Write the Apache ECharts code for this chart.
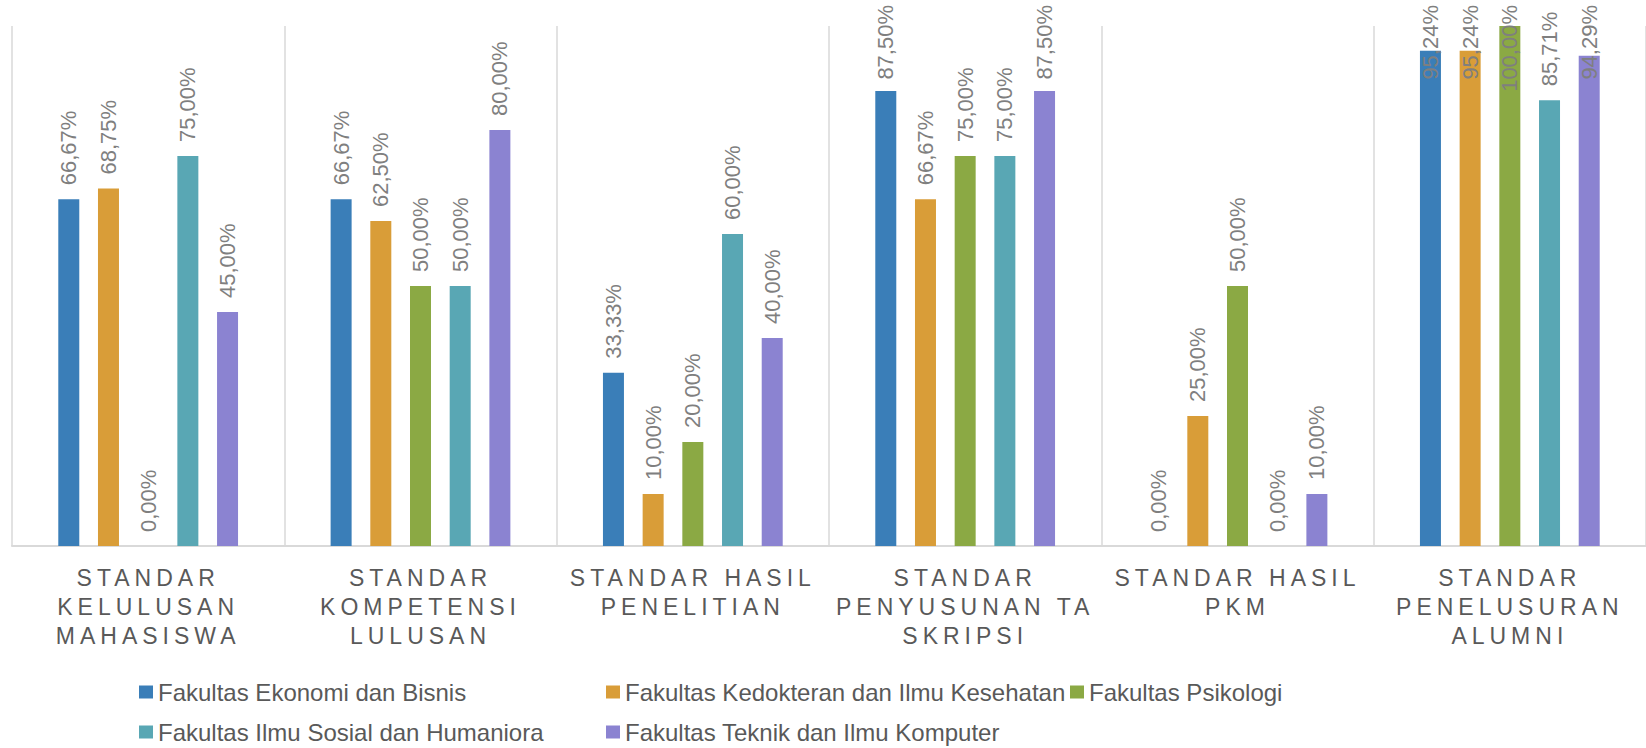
<!DOCTYPE html>
<html>
<head>
<meta charset="utf-8">
<script src="https://cdn.jsdelivr.net/npm/echarts@6/dist/echarts.min.js"></script>
<style>
  html, body { margin: 0; padding: 0; background: #fff; }
  #main { width: 1646px; height: 748px; }
  /* category labels are letter-spaced like the original */
  #main text[style*="23px"] { letter-spacing: 5px; }
</style>
</head>
<body>
<div id="main"></div>
<script>
var categories = [
    'STANDAR\nKELULUSAN\nMAHASISWA',
    'STANDAR\nKOMPETENSI\nLULUSAN',
    'STANDAR HASIL\nPENELITIAN',
    'STANDAR\nPENYUSUNAN TA\nSKRIPSI',
    'STANDAR HASIL\nPKM',
    'STANDAR\nPENELUSURAN\nALUMNI'
];
var names = [
    'Fakultas Ekonomi dan Bisnis',
    'Fakultas Kedokteran dan Ilmu Kesehatan',
    'Fakultas Psikologi',
    'Fakultas Ilmu Sosial dan Humaniora',
    'Fakultas Teknik dan Ilmu Komputer'
];
var feb = [66.67, 66.67, 33.33, 87.50, 0, 95.24];
var fkik = [68.75, 62.50, 10.00, 66.67, 25.00, 95.24];
var psi = [0, 50.00, 20.00, 75.00, 50.00, 100.00];
var fish = [75.00, 50.00, 60.00, 75.00, 0, 85.71];
var ftik = [45.00, 80.00, 40.00, 87.50, 10.00, 94.29];
var colors = ['#3a7eb8', '#d99d38', '#8ba944', '#59a7b4', '#8b83d1'];

var font = '"Liberation Sans", Arial, sans-serif';

function pct(p) {
    return p.value.toFixed(2).replace('.', ',') + '%';
}

function makeSeries(i, data) {
    return {
        name: names[i],
        type: 'bar',
        data: data,
        barWidth: 21,
        barGap: '89%',
        itemStyle: { color: colors[i] },
        label: {
            show: true,
            position: 'top',
            rotate: 90,
            align: 'left',
            verticalAlign: 'middle',
            distance: 14,
            fontSize: 22,
            fontFamily: font,
            color: '#7f7f7f',
            formatter: pct
        },
        // labels that would run off the top are pushed back inside, as Excel does
        // (offset is in the rotated frame, so -dx moves the text down)
        labelLayout: function (p) {
            var over = 5 - p.labelRect.y;
            return over > 0 ? { dx: -over } : {};
        }
    };
}

var legendText = { fontSize: 24, color: '#595959', fontFamily: font };

var myChart = echarts.init(document.getElementById('main'), null, { renderer: 'svg' });
var option = {
    animation: false,
    textStyle: { fontFamily: font },
    grid: { left: 12, right: 0, top: 26, bottom: 202 },
    legend: [
        { data: [names[0], names[3]], orient: 'vertical', left: 139, top: 680, padding: 0,
          icon: 'rect', itemWidth: 14, itemHeight: 13, itemGap: 16, selectedMode: false, textStyle: legendText },
        { data: [names[1], names[4]], orient: 'vertical', left: 606, top: 680, padding: 0,
          icon: 'rect', itemWidth: 14, itemHeight: 13, itemGap: 16, selectedMode: false, textStyle: legendText },
        { data: [names[2]], orient: 'vertical', left: 1070, top: 680, padding: 0,
          icon: 'rect', itemWidth: 14, itemHeight: 13, itemGap: 16, selectedMode: false, textStyle: legendText }
    ],
    xAxis: {
        type: 'category',
        data: categories,
        axisTick: { show: false },
        axisLine: { lineStyle: { color: '#d9d9d9', width: 2 } },
        splitLine: { show: true, lineStyle: { color: '#d9d9d9', width: 1.5 } },
        axisLabel: {
            interval: 0,
            margin: 17,
            fontSize: 23,
            lineHeight: 29,
            color: '#595959',
            fontFamily: font
        }
    },
    yAxis: {
        type: 'value',
        min: 0,
        max: 100,
        show: false,
        splitLine: { show: false }
    },
    series: [
        makeSeries(0, feb),
        makeSeries(1, fkik),
        makeSeries(2, psi),
        makeSeries(3, fish),
        makeSeries(4, ftik)
    ]
};
myChart.setOption(option);
window.onresize = myChart.resize;
</script>
</body>
</html>
